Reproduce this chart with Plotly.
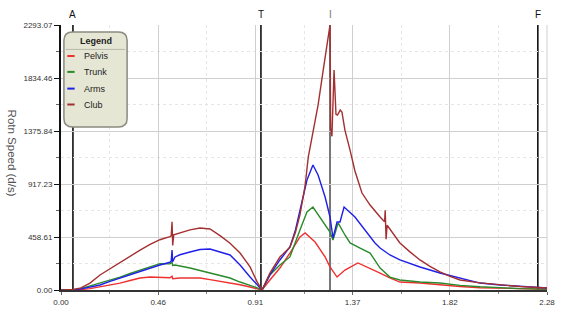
import plotly.graph_objects as go

# ---------------- data ----------------
club_t = [0.000, 0.056, 0.089, 0.136, 0.183, 0.230, 0.277, 0.324, 0.371, 0.418, 0.464, 0.511,
          0.517, 0.521, 0.524, 0.529, 0.558, 0.605, 0.652, 0.699, 0.746, 0.793, 0.840, 0.887,
          0.920, 0.943, 0.980, 1.027, 1.074, 1.100, 1.121, 1.145, 1.160, 1.182, 1.206, 1.230,
          1.248, 1.262, 1.265, 1.271, 1.281, 1.290, 1.297, 1.310, 1.318, 1.332, 1.356, 1.379,
          1.412, 1.450, 1.497, 1.518, 1.521, 1.525, 1.530, 1.559, 1.590, 1.637, 1.684, 1.731,
          1.778, 1.825, 1.872, 1.966, 2.060, 2.153, 2.280]
club_v = [0, 5, 15, 60, 130, 185, 240, 295, 345, 395, 435, 462,
          468, 590, 385, 478, 495, 520, 536, 528, 470, 405, 320, 200,
          70, 0, 147, 285, 370, 500, 650, 900, 1150, 1350, 1600, 1900,
          2130, 2293, 1400, 1330, 1904, 1520, 1514, 1557, 1540, 1384, 1211, 1030,
          839, 735, 632, 590, 690, 440, 560, 490, 407, 330, 260, 205,
          156, 118, 87, 62, 43, 30, 17]

arms_t = [0.000, 0.056, 0.089, 0.136, 0.183, 0.230, 0.277, 0.324, 0.371, 0.418, 0.464, 0.511,
          0.517, 0.521, 0.524, 0.535, 0.558, 0.605, 0.652, 0.699, 0.746, 0.793, 0.840, 0.887,
          0.943, 0.980, 1.027, 1.074, 1.100, 1.121, 1.154, 1.182, 1.206, 1.239, 1.262, 1.276,
          1.295, 1.309, 1.328, 1.379, 1.426, 1.473, 1.497, 1.543, 1.590, 1.684, 1.778, 1.872,
          1.966, 2.060, 2.153, 2.280]
arms_v = [0, 0, 8, 25, 43, 75, 104, 130, 156, 185, 216, 240,
          250, 346, 245, 286, 305, 329, 350, 355, 330, 303, 216, 112,
          0, 130, 260, 372, 520, 692, 952, 1082, 995, 805, 632, 450,
          588, 588, 718, 632, 519, 407, 363, 303, 260, 199, 147, 104,
          60, 43, 30, 17]

trunk_t = [0.000, 0.056, 0.089, 0.136, 0.183, 0.230, 0.277, 0.324, 0.371, 0.418, 0.464, 0.511,
           0.521, 0.524, 0.535, 0.605, 0.699, 0.793, 0.840, 0.887, 0.924, 0.943, 0.980, 1.027,
           1.074, 1.121, 1.154, 1.182, 1.215, 1.262, 1.276, 1.300, 1.332, 1.356, 1.403, 1.450,
           1.497, 1.543, 1.590, 1.684, 1.778, 1.872, 1.966, 2.060, 2.153, 2.280]
trunk_v = [0, 0, 10, 35, 60, 87, 112, 143, 173, 200, 228, 226,
           240, 212, 216, 190, 147, 104, 69, 43, 17, 0, 130, 216,
           286, 519, 675, 718, 632, 502, 432, 580, 476, 407, 363, 320,
           190, 112, 87, 69, 60, 40, 28, 18, 12, 8]

pelvis_t = [0.000, 0.056, 0.089, 0.136, 0.183, 0.230, 0.277, 0.324, 0.371, 0.418, 0.464, 0.511,
            0.521, 0.524, 0.558, 0.652, 0.699, 0.769, 0.840, 0.887, 0.943, 0.980, 1.027, 1.074,
            1.121, 1.145, 1.192, 1.239, 1.262, 1.295, 1.332, 1.393, 1.450, 1.497, 1.543, 1.590,
            1.684, 1.778, 1.872, 1.966, 2.060, 2.153, 2.280]
pelvis_v = [0, 0, 3, 12, 26, 43, 60, 82, 104, 112, 112, 106,
            120, 98, 104, 104, 90, 69, 45, 26, 0, 87, 190, 320,
            459, 493, 415, 286, 199, 112, 173, 234, 190, 147, 104, 69,
            60, 43, 30, 20, 14, 10, 6]

series_names = ["Pelvis", "Trunk", "Arms", "Club"]
series_colors = ["#ee3030", "#2a8a2a", "#1f1fe8", "#a33030"]

x_ticks = [0.0, 0.456, 0.912, 1.368, 1.824, 2.28]
x_tick_labels = ["0.00", "0.46", "0.91", "1.37", "1.82", "2.28"]
x_minor = [0.228, 0.684, 1.140, 1.596, 2.052]
y_ticks = [0.0, 458.61, 917.23, 1375.84, 1834.46, 2293.07]
y_tick_labels = ["0.00", "458.61", "917.23", "1375.84", "1834.46", "2293.07"]
y_minor = [229.31, 687.92, 1146.54, 1605.15, 2063.76]

event_names = ["A", "T", "I", "F"]
event_t = [0.056, 0.938, 1.262, 2.237]
event_colors = ["#111111", "#111111", "#777777", "#111111"]

# ---------------- figure ----------------
fig = go.Figure()
data = {"Pelvis": (pelvis_t, pelvis_v), "Trunk": (trunk_t, trunk_v),
        "Arms": (arms_t, arms_v), "Club": (club_t, club_v)}
for name, col in zip(series_names, series_colors):
    t, v = data[name]
    fig.add_trace(go.Scatter(x=t, y=v, mode="lines", name=name,
                             line=dict(color=col, width=1.4), showlegend=False))

for name, t, col in zip(event_names, event_t, event_colors):
    fig.add_shape(type="line", xref="x", yref="paper", x0=t, x1=t, y0=0, y1=1,
                  line=dict(color=col, width=2 if name == "I" else 1.6), layer="below")
    fig.add_annotation(x=t, xref="x", y=1.0, yref="paper", yshift=11, text=name,
                       xanchor="center", yanchor="middle",
                       showarrow=False, font=dict(size=10, color=col, family="Liberation Sans"))

# legend box (rounded rectangle) in paper coordinates
x0, x1, y0, y1 = 0.006, 0.136, 0.615, 0.974
rx, ry = 0.018, 0.032
path = (f"M {x0+rx},{y1} L {x1-rx},{y1} Q {x1},{y1} {x1},{y1-ry} "
        f"L {x1},{y0+ry} Q {x1},{y0} {x1-rx},{y0} L {x0+rx},{y0} "
        f"Q {x0},{y0} {x0},{y0+ry} L {x0},{y1-ry} Q {x0},{y1} {x0+rx},{y1} Z")
fig.add_shape(type="path", path=path, xref="paper", yref="paper",
              fillcolor="#e6e6d4", line=dict(color="#8a8a80", width=1.5), layer="above")
fig.add_annotation(x=0.072, y=0.94, xref="paper", yref="paper", text="<b>Legend</b>",
                   xanchor="center", yanchor="middle",
                   showarrow=False, font=dict(size=9, color="#222", family="Liberation Sans"))
fig.add_shape(type="line", xref="paper", yref="paper", x0=x0 + 0.004, x1=x1 - 0.004,
              y0=0.908, y1=0.908, line=dict(color="#b8b8a8", width=1), layer="above")
item_y = [0.883, 0.823, 0.760, 0.700]
for name, col, yy in zip(series_names, series_colors, item_y):
    fig.add_shape(type="line", xref="paper", yref="paper", x0=0.013, x1=0.028, y0=yy, y1=yy,
                  line=dict(color=col, width=2), layer="above")
    fig.add_annotation(x=0.043, y=yy, xref="paper", yref="paper", text=name,
                       xanchor="left", yanchor="middle",
                       showarrow=False, font=dict(size=9, color="#222", family="Liberation Sans"))

# y-axis title (rotated top-to-bottom)
fig.add_annotation(x=-0.1, y=0.517, xref="paper", yref="paper", xanchor="center", yanchor="middle",
                   text="Rotn Speed (d/s)", textangle=90, showarrow=False,
                   font=dict(size=11.5, color="#555", family="Liberation Sans"))

tick_font = dict(size=8, color="#333", family="Liberation Sans")
fig.update_xaxes(range=[0, 2.28], tickmode="array", tickvals=x_ticks, ticktext=x_tick_labels,
                 showgrid=True, gridcolor="#cfcfcf", gridwidth=1,
                 showline=True, linecolor="#333", linewidth=2,
                 ticks="outside", ticklen=3, tickcolor="#666", tickfont=tick_font,
                 zeroline=False,
                 minor=dict(tickvals=x_minor, showgrid=True, gridcolor="#e6e6e6",
                            griddash="dot", ticks="outside", ticklen=2, tickcolor="#888"))
fig.update_yaxes(range=[0, 2293.07], tickmode="array", tickvals=y_ticks, ticktext=y_tick_labels,
                 showgrid=True, gridcolor="#cfcfcf", gridwidth=1,
                 showline=True, linecolor="#111", linewidth=2,
                 ticks="outside", ticklen=5, tickcolor="#111", tickfont=tick_font,
                 zeroline=False,
                 minor=dict(tickvals=y_minor, showgrid=True, gridcolor="#e6e6e6",
                            griddash="dot", ticks="outside", ticklen=3, tickcolor="#666"))

# right border
fig.add_shape(type="line", xref="paper", yref="paper", x0=1, x1=1, y0=0, y1=1,
              line=dict(color="#cfcfcf", width=1), layer="below")

fig.update_layout(width=566, height=326, margin=dict(l=61, r=19, t=25, b=36),
                  plot_bgcolor="white", paper_bgcolor="white", showlegend=False)

fig.write_html("out.html")
